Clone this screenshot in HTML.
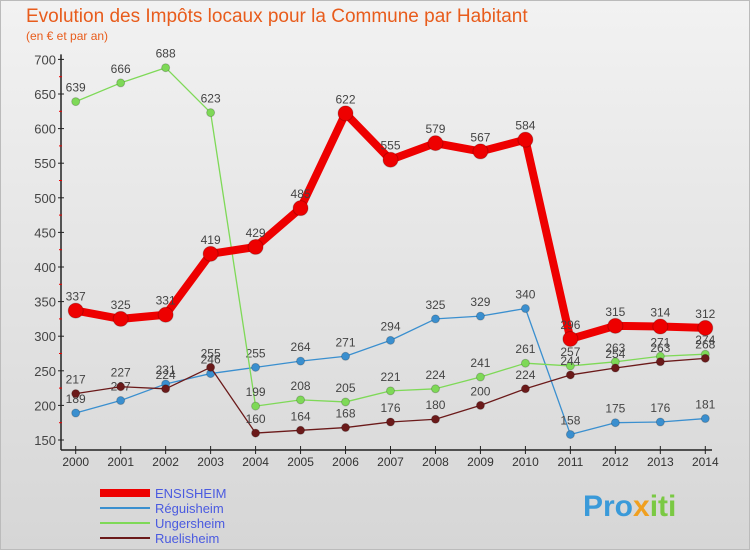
<!DOCTYPE html>
<html><head><meta charset="utf-8"><style>
body{margin:0;}
#wrap{width:750px;height:550px;position:relative;overflow:hidden;background:linear-gradient(#f2f2f2,#d6d6d6);font-family:"Liberation Sans",sans-serif;}
</style></head><body>
<div id="wrap">
<svg id="chart" width="750" height="550" xmlns="http://www.w3.org/2000/svg">
<rect x="0.5" y="0.5" width="749" height="549" fill="none" stroke="#bbb"/>
<text x="26" y="22" font-size="19" fill="#e85c1c">Evolution des Impôts locaux pour la Commune par Habitant</text>
<text x="26" y="40" font-size="12" fill="#e85c1c">(en € et par an)</text>
<g id="axes"></g><g id="series"></g><g id="legend"></g>
<text x="583" y="516" font-size="30" font-weight="bold" fill="#3a9ad9">Pro<tspan fill="#f0a020">x</tspan><tspan fill="#7ac943">iti</tspan></text>
</svg>
</div>
<script>
const years=[2000,2001,2002,2003,2004,2005,2006,2007,2008,2009,2010,2011,2012,2013,2014];
const ensisheim=[337,325,331,419,429,485,622,555,579,567,584,296,315,314,312];
const reguisheim=[189,207,231,246,255,264,271,294,325,329,340,158,175,176,181];
const ungersheim=[639,666,688,623,199,208,205,221,224,241,261,257,263,271,274];
const ruelisheim=[217,227,224,255,160,164,168,176,180,200,224,244,254,263,268];
const yTicks=[150,200,250,300,350,400,450,500,550,600,650,700];
const NS="http://www.w3.org/2000/svg";
const X=i=>75.7+i*(705.3-75.7)/(years.length-1);
const Y=v=>440-(v-150)*0.692;
function mk(t,a,p){const e=document.createElementNS(NS,t);for(const k in a)e.setAttribute(k,a[k]);p.appendChild(e);return e;}
const ax=document.getElementById('axes');
const yl=mk('line',{x1:61,y1:Y(700)-5,x2:61,y2:450,stroke:'#222','stroke-width':1.5},ax);


const xl=mk('line',{x1:61,y1:450,x2:712,y2:450,stroke:'#222','stroke-width':1.5},ax);


yTicks.forEach(v=>{
 mk('line',{x1:58,x2:64,y1:Y(v),y2:Y(v),stroke:'#222'},ax);
 if(v<700)mk('line',{x1:59,x2:62,y1:Y(v+25),y2:Y(v+25),stroke:'#e00'},ax);
 const t=mk('text',{x:56,y:Y(v)+5,'text-anchor':'end','font-size':13,fill:'#444'},ax);t.textContent=v;
 
 
});
years.forEach((yr,i)=>{
 mk('line',{x1:X(i),x2:X(i),y1:446,y2:454,stroke:'#222'},ax);
 const t=mk('text',{x:X(i),y:466,'text-anchor':'middle','font-size':12,fill:'#333'},ax);t.textContent=yr;
 
 
});
const S=document.getElementById('series');
function series(d,col,w,r,name){
 const g=mk('g',{},S);
 
 
 const p=mk('polyline',{points:d.map((v,i)=>X(i)+','+Y(v)).join(' '),fill:'none',stroke:col,'stroke-width':w,'stroke-linejoin':'round'},g);
 
 
 d.forEach((v,i)=>{
  const c=mk('circle',{cx:X(i),cy:Y(v),r:r,fill:col,stroke:'#0003'},g);
  
  
  const t=mk('text',{x:X(i),y:Y(v)-10,'text-anchor':'middle','font-size':12,fill:'#444'},g);t.textContent=v;
  
  
 });
}
series(reguisheim,'#3a8fcf',1.3,4,'reguisheim');
series(ungersheim,'#7ed957',1.3,4,'ungersheim');
series(ruelisheim,'#6b1a1a',1.3,4,'ruelisheim');
series(ensisheim,'#ee0000',8,7.5,'ensisheim');
const L=document.getElementById('legend');
[['ENSISHEIM','#ee0000',8],['Réguisheim','#3a8fcf',2],['Ungersheim','#7ed957',2],['Ruelisheim','#6b1a1a',2]].forEach((e,i)=>{
 const y=493+i*15;
 const g=mk('g',{},L);
 
 
 mk('line',{x1:100,x2:150,y1:y,y2:y,stroke:e[1],'stroke-width':e[2]},g);
 const t=mk('text',{x:155,y:y+5,'font-size':13,fill:'#4a5ae0'},g);t.textContent=e[0];
});
</script>
</body></html>
